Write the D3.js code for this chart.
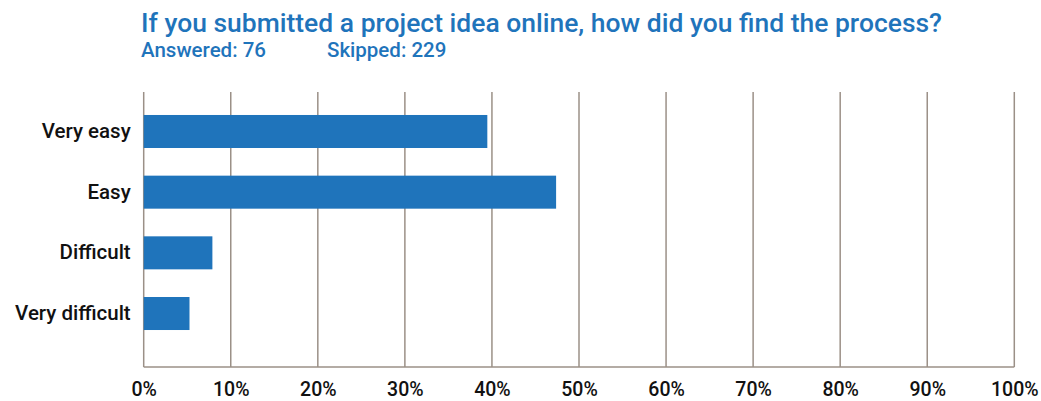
<!DOCTYPE html>
<html><head><meta charset="utf-8">
<script src="https://cdn.jsdelivr.net/npm/d3@7"></script>
<style>
body{margin:0;background:#fff;}
svg{display:block;}
text{font-family:Roboto,"DejaVu Sans",sans-serif;}
</style></head>
<body><svg id="c" width="1041" height="401"></svg>
<script>
const titleText = "If you submitted a project idea online, how did you find the process?";
const answeredText = "Answered: 76";
const skippedText = "Skipped: 229";
const categories = ["Very easy", "Easy", "Difficult", "Very difficult"];
const values = [39.47, 47.37, 7.89, 5.26];
const ticks = [0,10,20,30,40,50,60,70,80,90,100];

const svg = d3.select("#c");
const blue = "#1f74bb";
const gridColor = "#9b9087";

const x = d3.scaleLinear().domain([0,100]).range([143.7,1014.3]);
const y = d3.scaleBand().domain(categories).range([101.15,343.85]).paddingInner(0.456).paddingOuter(0.228);
const plotTop = 92, plotBottom = 367;

// title
svg.append("text").attr("x",141).attr("y",32).attr("fill",blue)
  .attr("font-size",26.7).attr("font-weight",500).attr("textLength",801).attr("lengthAdjust","spacingAndGlyphs").text(titleText);
svg.append("text").attr("x",141).attr("y",57).attr("fill",blue)
  .attr("font-size",20.5).attr("font-weight",500).text(answeredText);
svg.append("text").attr("x",327).attr("y",57).attr("fill",blue)
  .attr("font-size",20.5).attr("font-weight",500).text(skippedText);

// gridlines
svg.append("g").selectAll("line").data(ticks).join("line")
  .attr("x1",d=>x(d)).attr("x2",d=>x(d)).attr("y1",plotTop).attr("y2",plotBottom)
  .attr("stroke",gridColor).attr("stroke-width",1.5);
svg.append("line").attr("x1",x(0)).attr("x2",x(100)).attr("y1",plotBottom).attr("y2",plotBottom)
  .attr("stroke",gridColor).attr("stroke-width",1.5);

// bars
svg.append("g").selectAll("rect").data(categories).join("rect")
  .attr("x",x(0)).attr("y",d=>y(d)).attr("height",y.bandwidth())
  .attr("width",(d,i)=>x(values[i])-x(0)).attr("fill",blue);

// x axis labels
const xAxis = d3.axisBottom(x).tickValues(ticks).tickFormat(d=>d+"%").tickSize(0).tickPadding(15);
const gx = svg.append("g").attr("transform",`translate(0,${plotBottom})`).call(xAxis);
gx.select(".domain").remove();
gx.selectAll("text").attr("font-size",19.5).attr("font-weight",500).attr("fill","#111")
  .attr("font-family","Roboto,sans-serif");

// y axis labels
const yAxis = d3.axisLeft(y).tickSize(0).tickPadding(13);
const gy = svg.append("g").attr("transform",`translate(${x(0)},0)`).call(yAxis);
gy.select(".domain").remove();
gy.selectAll("text").attr("font-size",20.5).attr("font-weight",500).attr("fill","#111")
  .attr("font-family","Roboto,sans-serif");
</script></body></html>
